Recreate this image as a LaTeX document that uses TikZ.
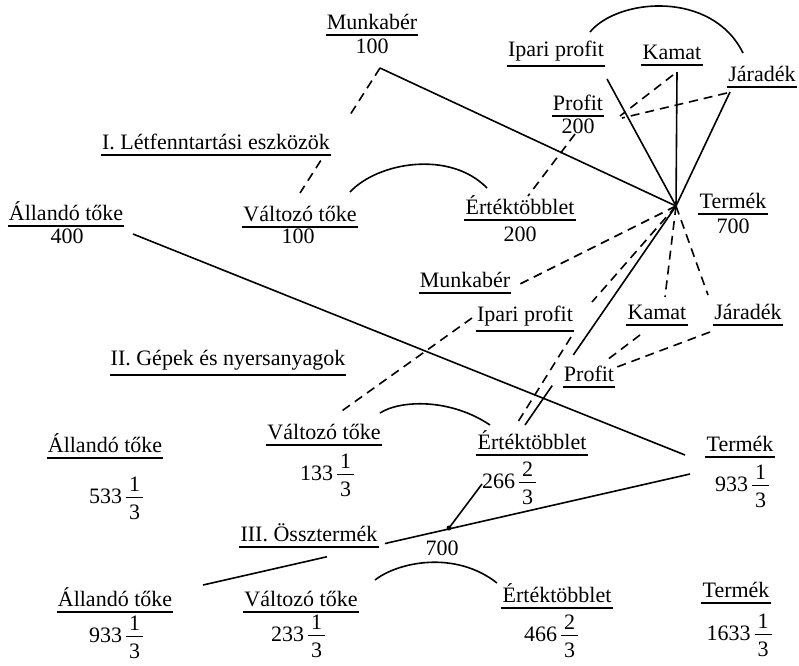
\documentclass[tikz,border=0pt]{standalone}
\usepackage{fontspec}
\setmainfont{Liberation Serif}
\usetikzlibrary{calc}
\newcommand{\thrd}[1]{\hspace{4pt}$\vcenter{\hbox{\renewcommand{\arraystretch}{0}\setlength{\arrayrulewidth}{1.6pt}\begin{tabular}{@{\hspace{3pt}}c@{\hspace{3pt}}}\rule[-5pt]{0pt}{21pt}#1\\\hline\rule[-1pt]{0pt}{22pt}3\end{tabular}}}$}
\begin{document}
\begin{tikzpicture}[x=1pt,y=-1pt,
  every node/.style={font=\fontsize{22}{26}\selectfont},
  lab/.style={anchor=south, inner xsep=1pt, inner ysep=5pt},
  num/.style={inner sep=0pt, anchor=base},
  ln/.style={line width=1.6pt},
  dl/.style={line width=1.6pt, dash pattern=on 9pt off 6pt},
  ulin/.style={line width=1.6pt}]
\useasboundingbox (0,0) rectangle (799,665);

% ---------- Department I ----------
\node[lab] (mb1) at (372,35) {Munkabér};
\node[num] (mb1n) at (372,53) {100};
\node[lab] (lf) at (216,155) {I. Létfenntartási eszközök};
\node[lab] (al1) at (66,226) {Állandó tőke};
\node[num] (al1n) at (67,243) {400};
\node[lab] (vt1) at (300,227) {Változó tőke};
\node[num] (vt1n) at (298,243) {100};
\node[lab] (et1) at (520,220) {Értéktöbblet};
\node[num] (et1n) at (520,241) {200};
\node[lab] (tm1) at (733,214) {Termék};
\node[num] (tm1n) at (733,233) {700};
\node[lab] (ip1) at (556,66) {Ipari profit};
\node[lab] (km1) at (672,65) {Kamat};
\node[lab] (jr1) at (762,87) {Járadék};
\node[lab] (pr1) at (578,116) {Profit};
\node[num] (pr1n) at (578,133) {200};

% ---------- Department II ----------
\node[lab] (mb2) at (465,293) {Munkabér};
\node[lab] (ip2) at (525,331) {Ipari profit};
\node[lab] (km2) at (657,325) {Kamat};
\node[lab] (jr2) at (748,325) {Járadék};
\node[lab] (pr2) at (589,387) {Profit};
\node[lab] (gp) at (228,375) {II. Gépek és nyersanyagok};
\node[lab] (al2) at (105,458) {Állandó tőke};
\node[num] (al2n) at (116,503) {533\thrd{1}};
\node[lab] (vt2) at (324,445) {Változó tőke};
\node[num] (vt2n) at (327,480) {133\thrd{1}};
\node[lab] (et2) at (532,455) {Értéktöbblet};
\node[num] (et2n) at (509,488) {266\thrd{2}};
\node[lab] (tm2) at (740,457) {Termék};
\node[num] (tm2n) at (742,491) {933\thrd{1}};

% ---------- Department III ----------
\node[lab] (ossz) at (309,547) {III. Össztermék};
\node[num] (ossz7) at (442,555) {700};
\node[lab] (al3) at (115,612) {Állandó tőke};
\node[num] (al3n) at (116,642) {933\thrd{1}};
\node[lab] (vt3) at (301,612) {Változó tőke};
\node[num] (vt3n) at (298,641) {233\thrd{1}};
\node[lab] (et3) at (557,608) {Értéktöbblet};
\node[num] (et3n) at (551,641) {466\thrd{2}};
\node[lab] (tm3) at (736,603) {Termék};
\node[num] (tm3n) at (739,640) {1633\thrd{1}};

% underlines
\foreach \n in {mb1,lf,al1,vt1,et1,tm1,ip1,km1,jr1,pr1,mb2,ip2,km2,jr2,pr2,gp,al2,vt2,et2,tm2,ossz,al3,vt3,et3,tm3}
  \draw[ulin] (\n.south west) -- (\n.south east);

% ---------- connector end points ----------
\coordinate (hub) at (676,206);
\coordinate (mbA) at (380,68);
\coordinate (vtA) at (300,193);
\coordinate (ipA) at (607,79);
\coordinate (kmA) at (677,72);
\coordinate (jrA) at (730,92);
\coordinate (kmB) at (673,75);
\coordinate (jrB) at (727,93);
\coordinate (prA) at (620,116);
\coordinate (prB) at (622,118);
\coordinate (prC) at (575,134);
\coordinate (etA) at (528,196);
\coordinate (alA) at (133,234);
\coordinate (tmA) at (685,455);
\coordinate (vtC) at (350,192);
\coordinate (etC) at (487,188);
\coordinate (ipC) at (590,32);
\coordinate (jrC) at (743,53);

\coordinate (mbM) at (518,285);
\coordinate (ipL) at (472,318);
\coordinate (vtM) at (339,413);
\coordinate (ipR) at (592,302);
\coordinate (ipB) at (571,337);
\coordinate (etM) at (516,425);
\coordinate (etS) at (525,425);
\coordinate (kmM) at (665,297);
\coordinate (jrM) at (708,295);
\coordinate (kmP) at (640,335);
\coordinate (prM) at (607,360);
\coordinate (jrP) at (710,332);
\coordinate (prN) at (617,367);
\coordinate (vtD) at (380,413);
\coordinate (etD) at (490,425);
\coordinate (tmB) at (690,474);
\coordinate (alB) at (203,585);
\coordinate (numA) at (482,484);
\coordinate (j700) at (449,528);
\coordinate (vtE) at (375,580);
\coordinate (etE) at (497,583);

% ---------- upper fan ----------
\draw[ln] (mbA) -- (hub);
\draw[dl] (mbA) -- ($(mbA)!0.4!(vtA)$);
\draw[dl] ($(mbA)!0.74!(vtA)$) -- (vtA);
\draw[ln] (ipA) -- (hub);
\draw[ln] (kmA) -- (hub);
\draw[ln] (jrA) -- (hub);
\draw[dl] (kmB) -- (prA);
\draw[dl] (jrB) -- (prB);
\draw[dl] (prC) -- (etA);
\draw[ln] (vtC) .. controls (378,162) and (450,150) .. (etC);
\draw[ln] (ipC) .. controls (618,-2) and (712,-10) .. (jrC);
\draw[ln] (alA) -- (tmA);

% ---------- lower fan ----------
\draw[dl] (hub) -- (mbM);
\draw[dl] (ipL) -- (vtM);
\draw[dl] (hub) -- (ipR);
\draw[dl] (ipB) -- (etM);
\draw[ln] (hub) -- ($(hub)!0.68!(etS)$);
\draw[ln] ($(hub)!0.82!(etS)$) -- (etS);
\draw[dl] (hub) -- (kmM);
\draw[dl] (hub) -- (jrM);
\draw[dl] (kmP) -- (prM);
\draw[dl] (jrP) -- (prN);
\draw[ln] (vtD) .. controls (400,400) and (450,398) .. (etD);

% ---------- department III links ----------
\draw[ln] (alB) -- ($(alB)!0.2546!(tmB)$);
\draw[ln] ($(alB)!0.3737!(tmB)$) -- (tmB);
\draw[ln] (numA) -- (j700);
\fill (j700) circle (2.5pt);
\draw[ln] (vtE) .. controls (398,562) and (455,550) .. (etE);
\end{tikzpicture}
\end{document}
